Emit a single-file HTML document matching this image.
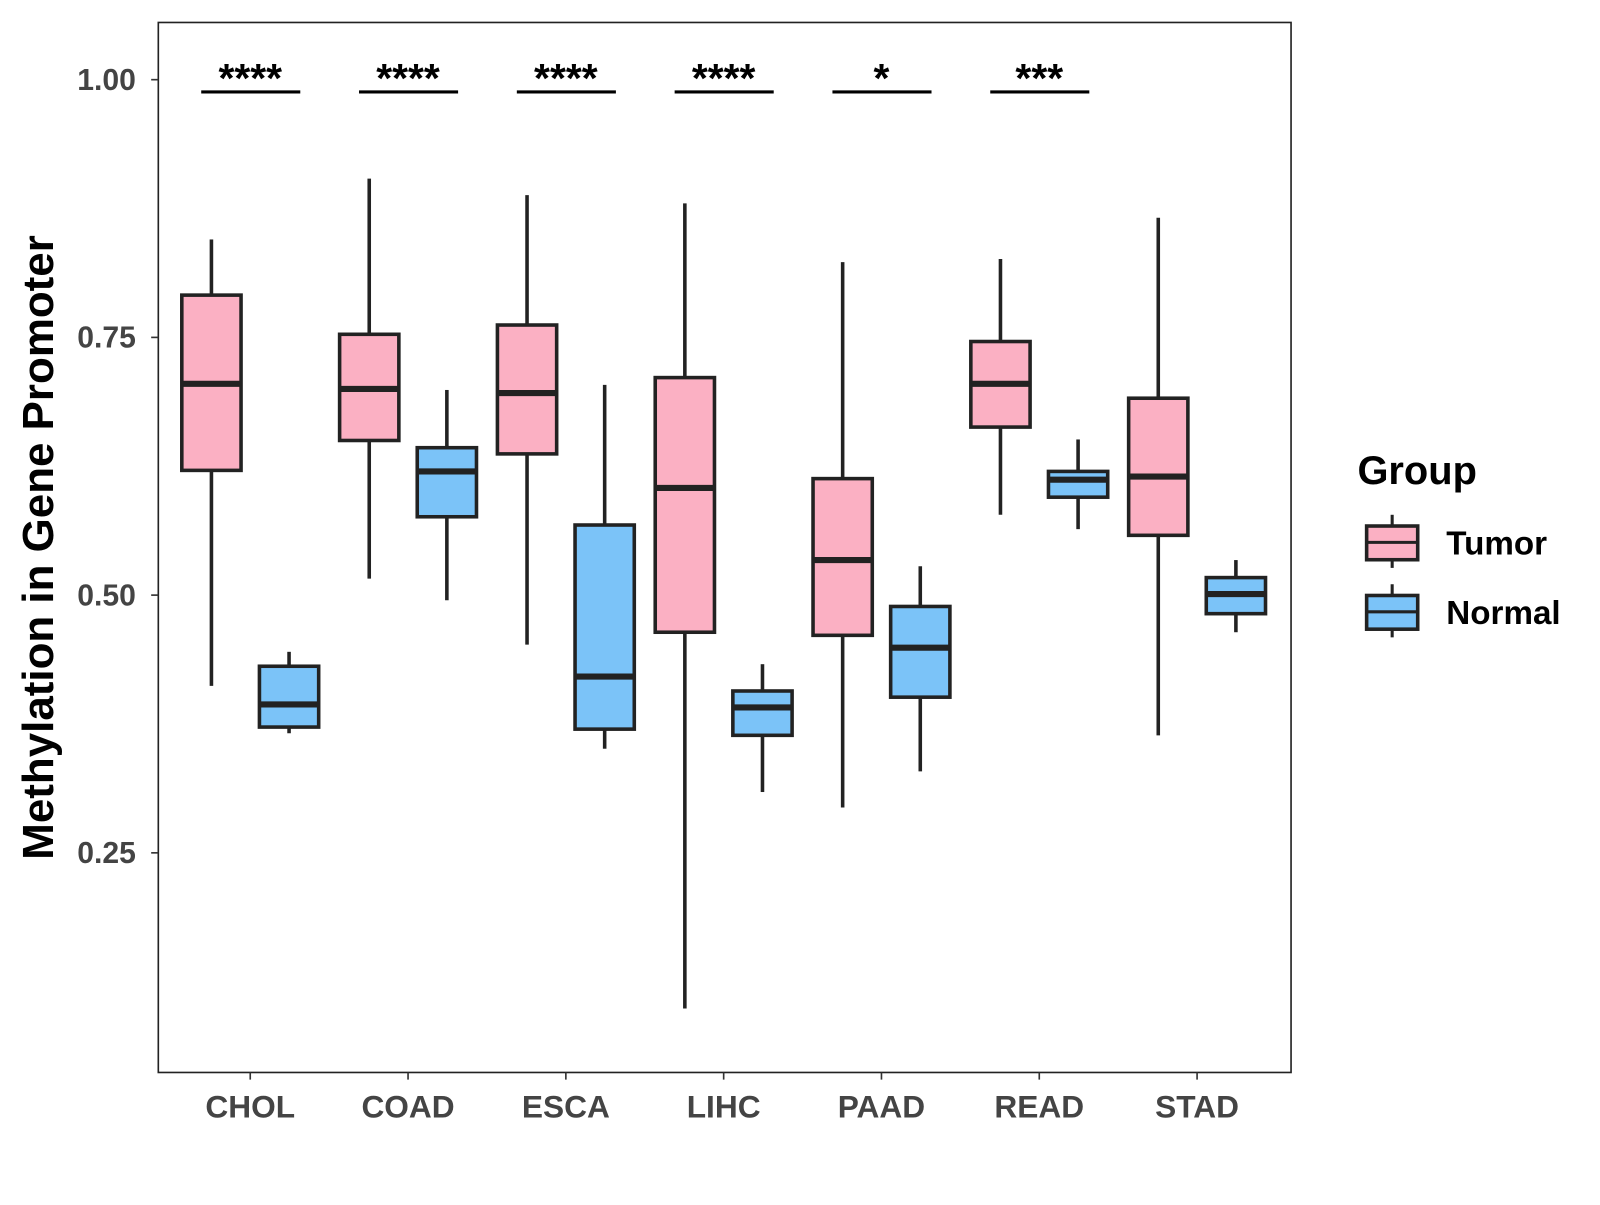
<!DOCTYPE html>
<html><head><meta charset="utf-8"><style>
html,body{margin:0;padding:0;background:#fff;}
svg text{font-family:"Liberation Sans",Arial,sans-serif;}
</style></head><body>
<svg id="chart" width="1600" height="1200" viewBox="0 0 1600 1200" xmlns="http://www.w3.org/2000/svg">
<rect x="0" y="0" width="1600" height="1200" fill="#fff"/>
<g id="plot" transform="scale(1.0214)"></g>
</svg>
<script>
const categories = ["CHOL","COAD","ESCA","LIHC","PAAD","READ","STAD"];
// [whiskerLow, Q1, median, Q3, whiskerHigh]
const tumorStats = [
 [0.412,0.621,0.705,0.791,0.845],
 [0.516,0.650,0.700,0.753,0.904],
 [0.452,0.637,0.696,0.762,0.888],
 [0.099,0.464,0.604,0.711,0.880],
 [0.294,0.461,0.534,0.613,0.823],
 [0.578,0.663,0.705,0.746,0.826],
 [0.364,0.558,0.615,0.691,0.866]
];
const normalStats = [
 [0.366,0.372,0.394,0.431,0.445],
 [0.495,0.576,0.620,0.643,0.699],
 [0.351,0.370,0.421,0.568,0.704],
 [0.309,0.364,0.391,0.407,0.433],
 [0.329,0.401,0.449,0.489,0.528],
 [0.564,0.595,0.612,0.620,0.651],
 [0.464,0.482,0.501,0.517,0.534]
];
const significance = ["****","****","****","****","*","***",""];
const yTicks = [0.25,0.50,0.75,1.00];
const yTickLabels = ["0.25","0.50","0.75","1.00"];

const NS="http://www.w3.org/2000/svg";
const g=document.getElementById('plot');
const panel={x0:155,x1:1264,y0:22,y1:1050};
function yScale(v){return 78+(1-v)*1009.3;}
function xScale(i){return 245+i*154.5;}
function el(tag,attrs,parent){const e=document.createElementNS(NS,tag);for(const k in attrs)e.setAttribute(k,attrs[k]);(parent||g).appendChild(e);return e;}

const border=el('rect',{x:panel.x0,y:panel.y0,width:panel.x1-panel.x0,height:panel.y1-panel.y0,fill:'none',stroke:'#222','stroke-width':1.6});



yTicks.forEach((v,i)=>{
  const y=yScale(v);
  const t=el('line',{x1:panel.x0-7,x2:panel.x0,y1:y,y2:y,stroke:'#333','stroke-width':1.6});
  
  
  const tx=el('text',{x:panel.x0-22,y:y+10,'text-anchor':'end','font-size':29.5,'font-weight':'bold',fill:'#444'});
  tx.textContent=yTickLabels[i];
  
  
});
const yt=el('text',{x:52,y:536,'text-anchor':'middle','font-size':43,'font-weight':'bold',fill:'#000',transform:'rotate(-90 52 536)'});
yt.textContent='Methylation in Gene Promoter';



function drawBox(s,cx,fill,name){
  const w=58;
  const grp=el('g',{});
  
  
  el('line',{x1:cx,x2:cx,y1:yScale(s[4]),y2:yScale(s[3]),stroke:'#222','stroke-width':3.5},grp);
  el('line',{x1:cx,x2:cx,y1:yScale(s[1]),y2:yScale(s[0]),stroke:'#222','stroke-width':3.5},grp);
  el('rect',{x:cx-w/2,y:yScale(s[3]),width:w,height:yScale(s[1])-yScale(s[3]),fill:fill,stroke:'#222','stroke-width':3.5},grp);
  el('line',{x1:cx-w/2,x2:cx+w/2,y1:yScale(s[2]),y2:yScale(s[2]),stroke:'#222','stroke-width':6},grp);
}

categories.forEach((c,i)=>{
  const cx=xScale(i);
  drawBox(tumorStats[i],cx-38,'#FBB0C3','box-tumor-'+c.toLowerCase());
  drawBox(normalStats[i],cx+38,'#7BC3F8','box-normal-'+c.toLowerCase());
  const t=el('line',{x1:cx,x2:cx,y1:panel.y1,y2:panel.y1+7,stroke:'#333','stroke-width':1.6});
  
  
  const tx=el('text',{x:cx,y:1094,'text-anchor':'middle','font-size':31,'font-weight':'bold',fill:'#444'});
  tx.textContent=c;
  
  
  if(significance[i]){
    const b=el('line',{x1:cx-48,x2:cx+49,y1:90,y2:90,stroke:'#000','stroke-width':3});
    
    
    const st=el('text',{x:cx,y:90,'text-anchor':'middle','font-size':40,'font-weight':'bold',fill:'#000'});
    st.textContent=significance[i];
    
    
  }
});

const lg=el('g',{});


const lt=el('text',{x:1329,y:474,'font-size':39,'font-weight':'bold',fill:'#000'},lg);
lt.textContent='Group';


[['Tumor','#FBB0C3',532],['Normal','#7BC3F8',600]].forEach(([n,f,cy])=>{
  const e=el('g',{},lg);
  
  
  el('line',{x1:1363,x2:1363,y1:cy-28,y2:cy+24,stroke:'#222','stroke-width':3},e);
  el('rect',{x:1338,y:cy-17,width:50,height:33,fill:f,stroke:'#222','stroke-width':3.5},e);
  el('line',{x1:1338,x2:1388,y1:cy-1,y2:cy-1,stroke:'#222','stroke-width':3},e);
  const t=el('text',{x:1416,y:cy+11,'font-size':32.5,'font-weight':'bold',fill:'#000'},e);
  t.textContent=n;
});
</script>
</body></html>
